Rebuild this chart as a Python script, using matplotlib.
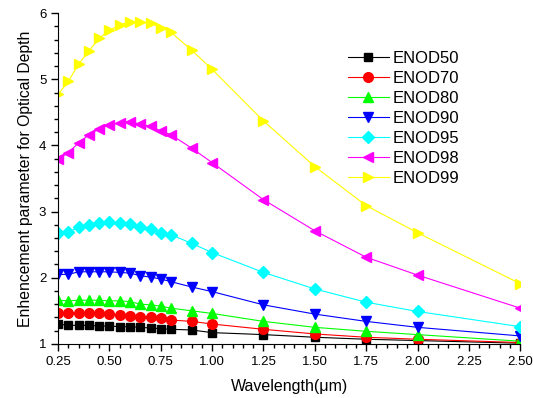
import numpy as np
import matplotlib.pyplot as plt
from matplotlib.ticker import MultipleLocator, FormatStrFormatter

plt.rcParams['font.family'] = ['Liberation Sans', 'DejaVu Sans']

# wavelength grid (um)
wavelength = [0.25, 0.30, 0.35, 0.40, 0.45, 0.50, 0.55, 0.60, 0.65, 0.70,
              0.75, 0.80, 0.90, 1.00, 1.25, 1.50, 1.75, 2.00, 2.50]

enod50 = [1.30, 1.28, 1.28, 1.28, 1.27, 1.27, 1.26, 1.26, 1.25, 1.24,
          1.23, 1.22, 1.21, 1.17, 1.14, 1.10, 1.07, 1.05, 1.01]
enod70 = [1.47, 1.46, 1.46, 1.46, 1.46, 1.45, 1.44, 1.42, 1.41, 1.40,
          1.39, 1.36, 1.34, 1.30, 1.22, 1.15, 1.10, 1.07, 1.02]
enod80 = [1.66, 1.65, 1.66, 1.66, 1.66, 1.65, 1.65, 1.64, 1.60, 1.59,
          1.57, 1.54, 1.50, 1.46, 1.34, 1.25, 1.19, 1.14, 1.04]
enod90 = [2.05, 2.05, 2.09, 2.09, 2.09, 2.09, 2.08, 2.07, 2.03, 2.01,
          1.98, 1.94, 1.86, 1.79, 1.59, 1.45, 1.34, 1.25, 1.12]
enod95 = [2.67, 2.69, 2.76, 2.80, 2.83, 2.84, 2.83, 2.81, 2.77, 2.74,
          2.68, 2.65, 2.52, 2.38, 2.08, 1.83, 1.63, 1.49, 1.26]
enod98 = [3.79, 3.89, 4.04, 4.16, 4.25, 4.31, 4.34, 4.36, 4.32, 4.29,
          4.22, 4.16, 3.96, 3.74, 3.18, 2.71, 2.31, 2.04, 1.54]
enod99 = [4.77, 4.97, 5.23, 5.43, 5.62, 5.74, 5.82, 5.87, 5.86, 5.85,
          5.78, 5.71, 5.44, 5.15, 4.37, 3.68, 3.09, 2.68, 1.91]

labels = ['ENOD50', 'ENOD70', 'ENOD80', 'ENOD90', 'ENOD95', 'ENOD98', 'ENOD99']
series = [enod50, enod70, enod80, enod90, enod95, enod98, enod99]
colors = ['black', 'red', '#00ff00', 'blue', 'cyan', 'magenta', 'yellow']
markers = ['s', 'o', '^', 'v', 'D', '<', '>']
sizes = [6, 7, 7, 7, 6, 7, 7]

fig = plt.figure(figsize=(5.33, 3.98), dpi=100)
ax = fig.add_axes([0.109, 0.136, 0.867, 0.831])

for y, lab, c, m, s in zip(series, labels, colors, markers, sizes):
    ax.plot(wavelength, y, color=c, lw=0.8, marker=m, markersize=s,
            markeredgecolor=c, label=lab)

ax.set_xlim(0.25, 2.5)
ax.set_ylim(1, 6)
ax.xaxis.set_major_locator(MultipleLocator(0.25))
ax.xaxis.set_minor_locator(MultipleLocator(0.05))
ax.xaxis.set_major_formatter(FormatStrFormatter('%.2f'))
ax.yaxis.set_major_locator(MultipleLocator(1))
ax.yaxis.set_minor_locator(MultipleLocator(0.2))
ax.tick_params(which='major', direction='out', length=5, width=1, labelsize=9.5)
ax.tick_params(which='minor', direction='out', length=3, width=1)
ax.spines['top'].set_visible(False)
ax.spines['right'].set_visible(False)

ax.set_xlabel('Wavelength(\u03bcm)', fontsize=11.5, labelpad=8)
ax.set_ylabel('Enhencement parameter for Optical Depth', fontsize=11.3)

ax.legend(loc='upper left', bbox_to_anchor=(0.612, 0.905), frameon=False,
          fontsize=12, handlelength=2.5, handletextpad=0.2,
          labelspacing=0.3, borderaxespad=0)

fig.savefig('out.png', dpi=100)
